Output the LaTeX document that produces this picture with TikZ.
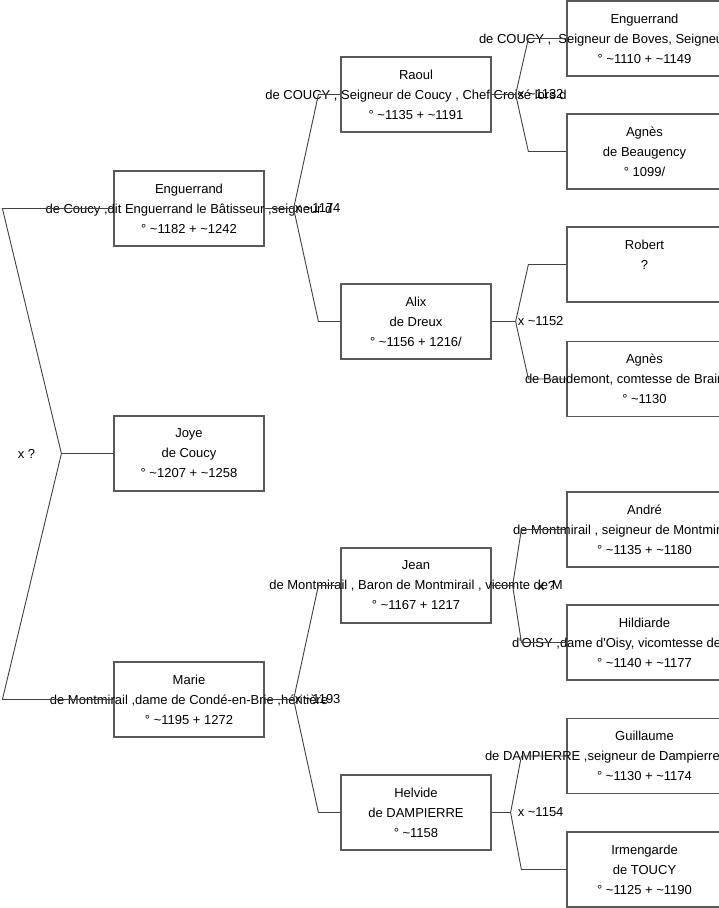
\documentclass[tikz,border=0pt]{standalone}
\usepackage{fontspec}
\setmainfont{Liberation Sans}
\usetikzlibrary{positioning}
\newcommand\apx{\textasciitilde}
% a middle line that runs out of its box
\newcommand\wide[1]{\makebox[0pt]{#1}}
\newcommand\spill[2]{\makebox[0pt][l]{\hspace*{#1pt}#2}}

\begin{document}
\begin{tikzpicture}[x=1pt, y=-1pt,
    person/.style={rectangle, draw=black!65, line width=1.2pt, minimum width=150pt, minimum height=75pt, align=center, inner sep=0pt, font=\fontsize{13}{20}\selectfont},
    outer/.style={person, minimum width=155pt},
    link/.style={draw=black!75, line width=0.9pt},
    wed/.style={anchor=west, inner sep=0pt, font=\fontsize{13}{20}\selectfont}
]
\useasboundingbox (0,0) rectangle (719,908);
\clip (0,0) rectangle (719,908);

% Generation 1
\node[person] (enguerrandIII) at (189,208.5) {Enguerrand\\\wide{de Coucy ,dit Enguerrand le Bâtisseur ,seigneur d}\\° \apx1182 + \apx1242};
\node[person] (joye) at (189,453.5) {Joye\\de Coucy\\° \apx1207 + \apx1258};
\node[person] (marie) at (189,699.5) {Marie\\\wide{de Montmirail ,dame de Condé-en-Brie ,héritière}\\° \apx1195 + 1272};

% Generation 2
\node[person] (raoul) at (416,94.5) {Raoul\\\wide{de COUCY , Seigneur de Coucy , Chef Croisé lors d}\\° \apx1135 + \apx1191};
\node[person] (alix) at (416,321.5) {Alix\\de Dreux\\° \apx1156 + 1216/};
\node[person] (jean) at (416,585.5) {Jean\\\wide{de Montmirail , Baron de Montmirail , vicomte de M}\\° \apx1167 + 1217};
\node[person] (helvide) at (416,812.5) {Helvide\\de DAMPIERRE\\° \apx1158};

% Generation 3
\node[outer] (enguerrandII) at (644.5,38.5) {Enguerrand\\\spill{-165.5}{de COUCY ,\ \ Seigneur de Boves, Seigneur}\\° \apx1110 + \apx1149};
\node[outer] (agnesBeaugency) at (644.5,151.5) {Agnès\\de Beaugency\\° 1099/};
\node[outer] (robert) at (644.5,264.5) {Robert\\?\\\mbox{}};
\node[outer] (agnesBaudemont) at (644.5,379) {Agnès\\\spill{-119.5}{de Baudemont, comtesse de Braine}\\° \apx1130};
\node[outer] (andre) at (644.5,529.5) {André\\\spill{-131.5}{de Montmirail , seigneur de Montmirail}\\° \apx1135 + \apx1180};
\node[outer] (hildiarde) at (644.5,642.5) {Hildiarde\\\spill{-132.5}{d\textquotesingle OISY ,dame d\textquotesingle Oisy, vicomtesse de}\\° \apx1140 + \apx1177};
\node[outer] (guillaume) at (644.5,756) {Guillaume\\\spill{-159.5}{de DAMPIERRE ,seigneur de Dampierre}\\° \apx1130 + \apx1174};
\node[outer] (irmengarde) at (644.5,869.5) {Irmengarde\\de TOUCY\\° \apx1125 + \apx1190};

% Joye's parents
\coordinate (j0) at ([xshift=-52]joye.west);
\draw[link] (joye.west) -- (j0);
\draw[link] (j0) -- ([xshift=-111]enguerrandIII.west) -- (enguerrandIII.west);
\draw[link] (j0) -- ([xshift=-111]marie.west) -- (marie.west);
\node[wed, anchor=east] (w0) at ([xshift=-26]j0) {x ?};

% Enguerrand's parents
\coordinate (j1) at ([xshift=29]enguerrandIII.east);
\draw[link] (enguerrandIII.east) -- (j1);
\draw[link] (j1) -- ([xshift=-22]raoul.west) -- (raoul.west);
\draw[link] (j1) -- ([xshift=-22]alix.west) -- (alix.west);
\node[wed] (w1) at ([xshift=1]j1) {x \apx1174};

% Marie's parents
\coordinate (j2) at ([xshift=29]marie.east);
\draw[link] (marie.east) -- (j2);
\draw[link] (j2) -- ([xshift=-22]jean.west) -- (jean.west);
\draw[link] (j2) -- ([xshift=-22]helvide.west) -- (helvide.west);
\node[wed] (w2) at ([xshift=1]j2) {x \apx1193};

% Raoul's parents
\coordinate (j3) at ([xshift=24]raoul.east);
\draw[link] (raoul.east) -- (j3);
\draw[link] (j3) -- ([xshift=-38]enguerrandII.west) -- (enguerrandII.west);
\draw[link] (j3) -- ([xshift=-38]agnesBeaugency.west) -- (agnesBeaugency.west);
\node[wed] (w3) at ([xshift=2]j3) {x \apx1132};

% Alix's parents
\coordinate (j4) at ([xshift=24]alix.east);
\draw[link] (alix.east) -- (j4);
\draw[link] (j4) -- ([xshift=-38]robert.west) -- (robert.west);
\draw[link] (j4) -- ([xshift=-38]agnesBaudemont.west) -- (agnesBaudemont.west);
\node[wed] (w4) at ([xshift=2]j4) {x \apx1152};

% Jean's parents
\coordinate (j5) at ([xshift=21]jean.east);
\draw[link] (jean.east) -- (j5);
\draw[link] (j5) -- ([xshift=-45]andre.west) -- (andre.west);
\draw[link] (j5) -- ([xshift=-45]hildiarde.west) -- (hildiarde.west);
\node[wed] (w5) at ([xshift=25]j5) {x ?};

% Helvide's parents
\coordinate (j6) at ([xshift=19]helvide.east);
\draw[link] (helvide.east) -- (j6);
\draw[link] (j6) -- ([xshift=-45]guillaume.west) -- (guillaume.west);
\draw[link] (j6) -- ([xshift=-45]irmengarde.west) -- (irmengarde.west);
\node[wed] (w6) at ([xshift=7]j6) {x \apx1154};

\end{tikzpicture}
\end{document}
